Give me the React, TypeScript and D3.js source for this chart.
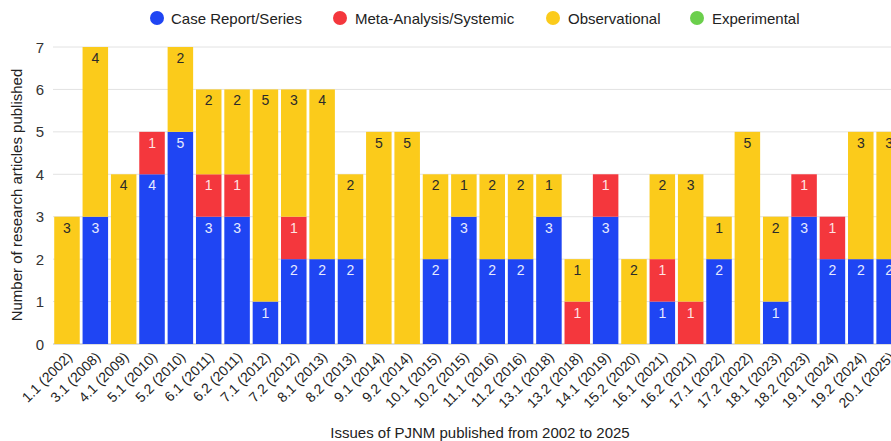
import React from "react";
import * as d3 from "d3";

const issues = [
  "1.1 (2002)", "3.1 (2008)", "4.1 (2009)", "5.1 (2010)", "5.2 (2010)", "6.1 (2011)",
  "6.2 (2011)", "7.1 (2012)", "7.2 (2012)", "8.1 (2013)", "8.2 (2013)", "9.1 (2014)",
  "9.2 (2014)", "10.1 (2015)", "10.2 (2015)", "11.1 (2016)", "11.2 (2016)", "13.1 (2018)",
  "13.2 (2018)", "14.1 (2019)", "15.2 (2020)", "16.1 (2021)", "16.2 (2021)", "17.1 (2022)",
  "17.2 (2022)", "18.1 (2023)", "18.2 (2023)", "19.1 (2024)", "19.2 (2024)", "20.1 (2025)",
];
const caseReport = [0, 3, 0, 4, 5, 3, 3, 1, 2, 2, 2, 0, 0, 2, 3, 2, 2, 3, 0, 3, 0, 1, 0, 2, 0, 1, 3, 2, 2, 2];
const metaAnalysis = [0, 0, 0, 1, 0, 1, 1, 0, 1, 0, 0, 0, 0, 0, 0, 0, 0, 0, 1, 1, 0, 1, 1, 0, 0, 0, 1, 1, 0, 0];
const observational = [3, 4, 4, 0, 2, 2, 2, 5, 3, 4, 2, 5, 5, 2, 1, 2, 2, 1, 1, 0, 2, 2, 3, 1, 5, 2, 0, 0, 3, 3];
const experimental = [0, 0, 0, 0, 0, 0, 0, 0, 0, 0, 0, 0, 0, 0, 0, 0, 0, 0, 0, 0, 0, 0, 0, 0, 0, 0, 0, 0, 0, 0];
const yTicks = [0, 1, 2, 3, 4, 5, 6, 7];

const seriesNames = ["Case Report/Series", "Meta-Analysis/Systemic", "Observational", "Experimental"];
const seriesData = [caseReport, metaAnalysis, observational, experimental];
const colors = ["#1f45f3", "#f4373d", "#fbcb1b", "#6bcf4c"];
const labelColors = ["#e6eaff", "#ffe3e3", "#2a2a2a", "#2a2a2a"];

const W = 891;
const H = 441;
const FONT = "'Liberation Sans', Arial, sans-serif";

export default function App() {
  const step = 28.35;
  const left = 52.8;
  const x = d3
    .scaleBand<string>()
    .domain(issues)
    .range([left, left + step * issues.length])
    .paddingInner(0.1)
    .paddingOuter(0.05);
  const y = d3.scaleLinear().domain([0, 7]).range([344, 47]);

  const rows = issues.map((issue, i) => {
    const r: any = { issue };
    seriesNames.forEach((s, k) => (r[s] = seriesData[k][i]));
    return r;
  });
  const stacked = d3.stack<any>().keys(seriesNames)(rows);

  const legendItems = [
    { cx: 157, tx: 171 },
    { cx: 340, tx: 355 },
    { cx: 553, tx: 568 },
    { cx: 697, tx: 712 },
  ];

  return (
    <svg
      width={W}
      height={H}
      style={{ position: "absolute", left: 0, top: 0, background: "#fff" }}
      fontFamily={FONT}
    >
      <rect x={0} y={0} width={W} height={H} fill="#fff" />
      {/* legend */}
      {seriesNames.map((s, k) => (
        <g key={s}>
          <circle cx={legendItems[k].cx} cy={18} r={7} fill={colors[k]} />
          <text x={legendItems[k].tx} y={23.5} fontSize={15} fill="#222">
            {s}
          </text>
        </g>
      ))}
      {/* gridlines */}
      {yTicks.map((t) => (
        <g key={t}>
          <line x1={53} x2={W} y1={y(t)} y2={y(t)} stroke={t === 0 ? "#bdbdbd" : "#e2e2e2"} strokeWidth={1} />
          <text x={44} y={y(t) + 5.5} textAnchor="end" fontSize={15} fill="#333">
            {t}
          </text>
        </g>
      ))}
      {/* bars */}
      {stacked.map((layer, k) =>
        layer.map((d, i) => {
          const v = d[1] - d[0];
          if (v <= 0) return null;
          const bx = x(issues[i]) as number;
          const bw = x.bandwidth();
          return (
            <g key={`${k}-${i}`}>
              <rect x={bx} y={y(d[1])} width={bw} height={y(d[0]) - y(d[1])} fill={colors[k]} />
              <text
                x={bx + bw / 2}
                y={y(d[1]) + 16}
                textAnchor="middle"
                fontSize={14}
                fill={labelColors[k]}
              >
                {v}
              </text>
            </g>
          );
        })
      )}
      {/* x labels */}
      {issues.map((iss) => {
        const cx = (x(iss) as number) + x.bandwidth() / 2 + 6;
        const cy = 358;
        return (
          <text
            key={iss}
            x={cx}
            y={cy}
            transform={`rotate(-45 ${cx} ${cy})`}
            textAnchor="end"
            fontSize={14}
            fill="#222"
          >
            {iss}
          </text>
        );
      })}
      {/* axis titles */}
      <text x={480} y={438} textAnchor="middle" fontSize={15} fill="#222">
        Issues of PJNM published from 2002 to 2025
      </text>
      <text
        x={0}
        y={0}
        transform={`translate(22 195) rotate(-90)`}
        textAnchor="middle"
        fontSize={15}
        fill="#222"
      >
        Number of research articles published
      </text>
    </svg>
  );
}
